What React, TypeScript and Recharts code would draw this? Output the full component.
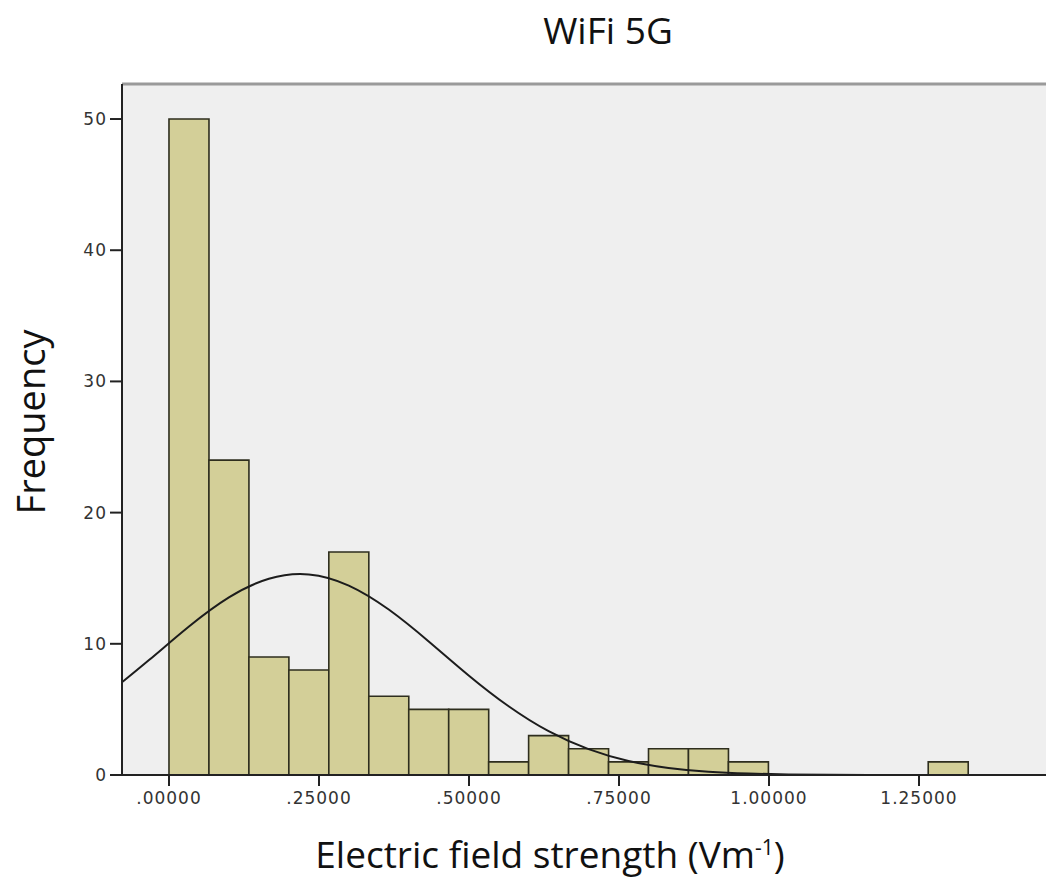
import React from "react";
import {
  ComposedChart, Bar, Line, XAxis, YAxis, CartesianGrid, ReferenceLine,
} from "recharts";

// bin centres (bin width ~0.0666), two empty bins on the left and three on the right
const binCenters = [
  -0.0999, -0.0333, 0.0333, 0.0999, 0.1665, 0.2331, 0.2997, 0.3663, 0.4329, 0.4995,
  0.5661, 0.6327, 0.6993, 0.7659, 0.8325, 0.8991, 0.9657, 1.0323, 1.0989, 1.1655,
  1.2321, 1.2987, 1.3653, 1.4319, 1.4985,
];
const frequency = [
  0, 0, 50, 24, 9, 8, 17, 6, 5, 5,
  1, 3, 2, 1, 2, 2, 1, 0, 0, 0,
  0, 1, 0, 0, 0,
];
// fitted normal curve at each bin centre
const normalCurve = [
  6.26, 8.76, 11.32, 13.54, 14.96, 15.29, 14.44, 12.61, 10.18, 7.59,
  5.24, 3.34, 1.97, 1.07, 0.54, 0.25, 0.11, 0.04, 0.01, 0,
  0, 0, 0, 0, 0,
];
const xTicks = [0, 0.25, 0.5, 0.75, 1.0, 1.25];
const yTicks = [0, 10, 20, 30, 40, 50];

const data = binCenters.map((x, i) => ({ x, freq: frequency[i], curve: normalCurve[i] }));

const X_MIN = -0.0783;
const X_MAX = 1.4617;
const Y_MAX = 52.67;

const tickFont = { fill: "#333", fontSize: 17, fontFamily: "DejaVu Sans", letterSpacing: 1 };

const fmtX = (v: number) => {
  const s = v.toFixed(5);
  return s.startsWith("0") ? s.slice(1) : s;
};

export default function App() {
  return (
    <div style={{ position: "absolute", left: 0, top: 0, width: 1046, height: 892, background: "#fff" }}>
      <div
        style={{
          position: "absolute", left: 508, width: 200, top: 4, textAlign: "center",
          fontFamily: "Open Sans", fontSize: 37, color: "#111",
        }}
      >
        WiFi 5G
      </div>
      <div style={{ position: "absolute", left: 30, top: 422, width: 0, height: 0 }}>
        <div
          style={{
            position: "absolute", transform: "translate(-50%, -50%) rotate(-90deg)",
            whiteSpace: "nowrap", fontFamily: "Open Sans", fontSize: 38, color: "#111",
          }}
        >
          Frequency
        </div>
      </div>
      <div
        style={{
          position: "absolute", left: 250, width: 600, top: 828, textAlign: "center",
          whiteSpace: "nowrap", fontFamily: "Open Sans", fontSize: 37, color: "#111",
        }}
      >
        Electric field strength (Vm<sup style={{ fontSize: 21 }}>-1</sup>)
      </div>
      <ComposedChart
        width={1046}
        height={892}
        data={data}
        margin={{ top: 84, right: 0, bottom: 0, left: 0 }}
        barCategoryGap={0}
        barGap={0}
      >
        <CartesianGrid horizontal={false} vertical={false} fill="#efefef" />
        <XAxis
          dataKey="x"
          type="number"
          domain={[X_MIN, X_MAX]}
          allowDataOverflow
          ticks={xTicks}
          tickFormatter={fmtX}
          height={117}
          tickSize={11}
          tickMargin={6}
          tick={tickFont}
          axisLine={{ stroke: "#222", strokeWidth: 2 }}
          tickLine={{ stroke: "#222", strokeWidth: 2 }}
        />
        <YAxis
          type="number"
          domain={[0, Y_MAX]}
          allowDataOverflow
          ticks={yTicks}
          width={122}
          tickSize={12}
          tickMargin={3}
          tick={tickFont}
          axisLine={{ stroke: "#222", strokeWidth: 2 }}
          tickLine={{ stroke: "#222", strokeWidth: 2 }}
        />
        <ReferenceLine y={Y_MAX} stroke="#9a9a9a" strokeWidth={3} ifOverflow="visible" />
        <Bar
          dataKey="freq"
          fill="#d3cf98"
          stroke="#2e2e1e"
          strokeWidth={1.6}
          isAnimationActive={false}
        />
        <Line
          dataKey="curve"
          type="natural"
          stroke="#1c1c1c"
          strokeWidth={2}
          dot={false}
          activeDot={false}
          isAnimationActive={false}
        />
      </ComposedChart>
    </div>
  );
}
